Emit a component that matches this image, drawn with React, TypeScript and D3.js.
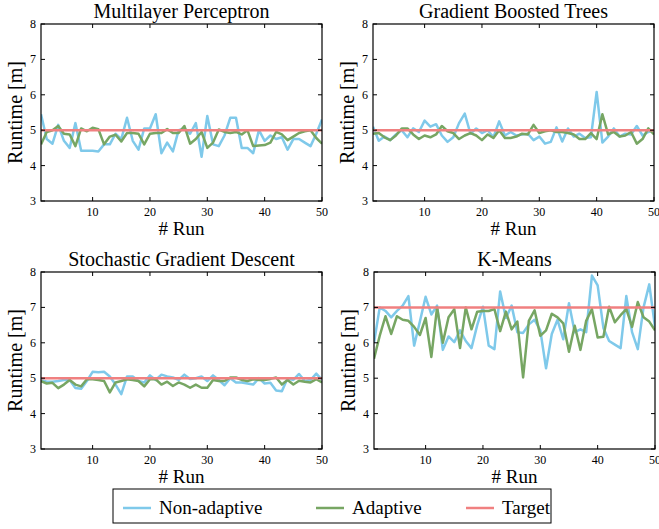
import React, { useEffect, useRef } from 'react';
import * as d3 from 'd3';

// ==== data

const runs = d3.range(1, 51);
const yTicks = [3, 4, 5, 6, 7, 8];
const xTicks = [10, 20, 30, 40, 50];
const seriesNames = ['Non-adaptive', 'Adaptive', 'Target'];
const titles = ['Multilayer Perceptron', 'Gradient Boosted Trees', 'Stochastic Gradient Descent', 'K-Means'];
const targets = [5, 5, 5, 7];

const mlpNonAdaptive = [
    5.45, 4.75, 4.62, 5.15, 4.7, 4.5, 5.2, 4.42, 4.42, 4.42,
    4.4, 4.6, 4.6, 4.9, 4.75, 5.35, 4.7, 4.45, 5.05, 5.05,
    5.45, 4.35, 4.65, 4.4, 5.0, 5.05, 4.9, 5.2, 4.25, 5.4,
    4.6, 4.55, 4.85, 5.35, 5.35, 4.5, 4.5, 4.35, 5.0, 4.7,
    4.85, 4.75, 4.8, 4.45, 4.75, 4.75, 4.65, 4.55, 4.9, 5.3
];
const mlpAdaptive = [
    4.6, 4.95, 5.0, 5.12, 4.9, 4.88, 4.55, 5.05, 4.97, 5.07,
    5.03, 4.6, 4.82, 4.87, 4.68, 4.92, 4.92, 4.9, 4.6, 4.9,
    4.92, 4.92, 5.03, 4.92, 4.92, 5.12, 4.62, 4.75, 4.95, 4.5,
    4.65, 5.02, 4.95, 4.92, 4.95, 4.88, 5.0, 4.55, 4.57, 4.58,
    4.65, 4.95, 4.88, 4.72, 4.82, 4.92, 4.97, 5.0, 4.78, 4.62
];
const gbtNonAdaptive = [
    5.1, 4.7, 4.82, 4.72, 4.88, 5.0, 4.8, 5.05, 4.95, 5.27,
    5.1, 5.17, 4.85, 4.67, 4.8, 5.2, 5.47, 4.9, 5.05, 4.92,
    5.0, 4.8, 5.25, 4.85, 4.95, 4.85, 4.88, 4.9, 4.72, 4.82,
    4.62, 4.67, 5.08, 4.68, 5.05, 4.82, 4.9, 4.78, 4.8, 6.08,
    4.65, 4.82, 5.05, 4.82, 4.9, 4.88, 5.12, 4.85, 4.95, 5.0
];
const gbtAdaptive = [
    4.9, 4.92, 4.8, 4.72, 4.85, 5.05, 5.05, 4.88, 4.75, 4.85,
    4.8, 4.88, 5.12, 4.97, 4.92, 4.75, 4.85, 4.92, 4.85, 4.72,
    4.88, 4.78, 5.0, 4.78, 4.78, 4.82, 4.9, 4.88, 5.15, 4.92,
    4.97, 5.0, 4.95, 4.95, 4.92, 4.88, 4.75, 4.75, 4.92, 4.75,
    5.45, 4.88, 4.95, 4.82, 4.85, 4.95, 4.62, 4.75, 5.05, 4.88
];
const sgdNonAdaptive = [
    4.95, 4.9, 4.9, 4.92, 4.95, 4.95, 4.72, 4.7, 4.92, 5.18,
    5.17, 5.18, 5.05, 4.82, 4.55, 5.05, 5.05, 4.92, 4.88, 5.08,
    4.95, 5.1, 5.05, 5.02, 4.95, 5.1, 4.98, 5.0, 5.05, 4.92,
    5.08, 4.95, 4.8, 5.0, 4.88, 4.88, 4.85, 4.82, 5.0, 4.85,
    4.87, 4.65, 4.63, 5.0, 4.95, 5.12, 4.92, 4.95, 5.13, 4.95
];
const sgdAdaptive = [
    4.92, 4.85, 4.87, 4.72, 4.82, 4.95, 4.82, 4.77, 4.97, 4.97,
    4.95, 4.92, 4.6, 4.88, 4.92, 4.97, 4.95, 4.92, 4.77, 4.97,
    4.97, 4.82, 4.9, 4.78, 4.88, 4.82, 4.73, 4.82, 4.73, 4.73,
    4.95, 4.92, 4.92, 5.02, 5.02, 4.95, 4.92, 4.97, 4.95, 4.95,
    4.98, 5.02, 4.82, 4.95, 4.82, 4.93, 4.9, 4.88, 4.97, 4.88
];
const kmNonAdaptive = [
    6.0, 7.0, 6.9, 6.72, 6.9, 7.05, 7.32, 5.92, 6.6, 7.3,
    6.8, 7.05, 5.8, 6.18, 6.02, 6.35, 6.05, 5.85, 6.5, 7.02,
    5.92, 5.82, 7.45, 6.7, 7.05, 6.3, 6.28, 6.52, 6.65, 6.35,
    5.28, 6.25, 6.65, 6.1, 7.12, 6.3, 6.38, 6.3, 7.9, 7.62,
    6.42, 6.05, 5.95, 5.85, 7.32, 6.3, 5.82, 7.0, 7.65, 6.45
];
const kmAdaptive = [
    5.55, 6.2, 6.75, 6.25, 6.75, 6.65, 6.62, 6.45, 6.22, 6.7,
    5.6, 7.0, 6.0, 6.72, 6.95, 5.85, 7.0, 6.38, 6.88, 6.9,
    6.9, 6.95, 6.33, 6.88, 6.38, 6.6, 5.02, 6.62, 6.92, 6.2,
    6.35, 6.82, 6.72, 6.55, 5.75, 6.48, 5.8, 6.62, 6.95, 6.15,
    6.17, 7.02, 6.58, 6.78, 6.95, 6.45, 7.15, 6.72, 6.6, 6.35
];

const nonAdaptive = [mlpNonAdaptive, gbtNonAdaptive, sgdNonAdaptive, kmNonAdaptive];
const adaptive = [mlpAdaptive, gbtAdaptive, sgdAdaptive, kmAdaptive];

// ==== layout

const WIDTH = 659;
const HEIGHT = 529;
const FONT = '"Liberation Serif", "DejaVu Serif", serif';
const COLORS = ['#7fc9ea', '#77a663', '#f08080'];
const panelBoxes = [
    { left: 41, top: 24 },
    { left: 373, top: 24 },
    { left: 41, top: 272 },
    { left: 374, top: 272 }
];
const PW = 281;
const PH = 177;

function drawPanel(svg, i) {
    const box = panelBoxes[i];
    const g = svg.append('g').attr('transform', `translate(${box.left}, ${box.top})`);

    const x = d3.scaleLinear().domain([1, 50]).range([0, PW]);
    const y = d3.scaleLinear().domain([3, 8]).range([PH, 0]);

    const clipId = `clip-${i}`;
    g.append('clipPath').attr('id', clipId)
        .append('rect').attr('width', PW).attr('height', PH);

    const line = d3.line().x((d, k) => x(runs[k])).y((d) => y(d));
    const plot = g.append('g').attr('clip-path', `url(#${clipId})`);

    plot.append('path')
        .datum(nonAdaptive[i])
        .attr('d', line)
        .attr('fill', 'none')
        .attr('stroke', COLORS[0])
        .attr('stroke-width', 2.5)
        .attr('stroke-linejoin', 'round');

    plot.append('path')
        .datum(adaptive[i])
        .attr('d', line)
        .attr('fill', 'none')
        .attr('stroke', COLORS[1])
        .attr('stroke-width', 2.5)
        .attr('stroke-linejoin', 'round');

    plot.append('path')
        .datum(runs.map(() => targets[i]))
        .attr('d', line)
        .attr('fill', 'none')
        .attr('stroke', COLORS[2])
        .attr('stroke-width', 2.5);

    // inward ticks on all four sides
    const ticks = g.append('g').attr('stroke', '#000').attr('stroke-width', 1);
    yTicks.forEach((t) => {
        ticks.append('line').attr('x1', 0).attr('x2', 4).attr('y1', y(t)).attr('y2', y(t));
        ticks.append('line').attr('x1', PW).attr('x2', PW - 4).attr('y1', y(t)).attr('y2', y(t));
    });
    xTicks.forEach((t) => {
        ticks.append('line').attr('x1', x(t)).attr('x2', x(t)).attr('y1', PH).attr('y2', PH - 4);
        ticks.append('line').attr('x1', x(t)).attr('x2', x(t)).attr('y1', 0).attr('y2', 4);
    });

    g.append('rect')
        .attr('width', PW)
        .attr('height', PH)
        .attr('fill', 'none')
        .attr('stroke', '#000')
        .attr('stroke-width', 1.2);

    g.selectAll('.ylab').data(yTicks).enter().append('text')
        .attr('x', -5)
        .attr('y', (d) => y(d) + 4)
        .attr('text-anchor', 'end')
        .style('font-family', FONT)
        .style('font-size', '12px')
        .text((d) => d);

    g.selectAll('.xlab').data(xTicks).enter().append('text')
        .attr('x', (d) => x(d))
        .attr('y', PH + 15)
        .attr('text-anchor', 'middle')
        .style('font-family', FONT)
        .style('font-size', '12px')
        .text((d) => d);

    g.append('text')
        .attr('x', PW / 2)
        .attr('y', -6)
        .attr('text-anchor', 'middle')
        .style('font-family', FONT)
        .style('font-size', '20px')
        .text(titles[i]);

    g.append('text')
        .attr('x', PW / 2)
        .attr('y', PH + 34)
        .attr('text-anchor', 'middle')
        .style('font-family', FONT)
        .style('font-size', '19px')
        .text('# Run');

    g.append('text')
        .attr('transform', `translate(-19, ${PH / 2}) rotate(-90)`)
        .attr('text-anchor', 'middle')
        .style('font-family', FONT)
        .style('font-size', '20px')
        .text('Runtime [m]');
}

function drawLegend(svg) {
    const lg = svg.append('g').attr('transform', 'translate(113, 489)');
    lg.append('rect')
        .attr('width', 438)
        .attr('height', 34)
        .attr('fill', '#fff')
        .attr('stroke', '#000')
        .attr('stroke-width', 1);

    const starts = [10, 203, 353];
    seriesNames.forEach((name, k) => {
        lg.append('line')
            .attr('x1', starts[k])
            .attr('x2', starts[k] + 28)
            .attr('y1', 19)
            .attr('y2', 19)
            .attr('stroke', COLORS[k])
            .attr('stroke-width', 2.5);
        lg.append('text')
            .attr('x', starts[k] + 36)
            .attr('y', 25)
            .style('font-family', FONT)
            .style('font-size', '19px')
            .text(name);
    });
}

export default function App() {
    const ref = useRef(null);

    useEffect(() => {
        const svg = d3.select(ref.current);
        svg.selectAll('*').remove();
        [0, 1, 2, 3].forEach((i) => drawPanel(svg, i));
        drawLegend(svg);
    }, []);

    return (
        <svg
            ref={ref}
            width={WIDTH}
            height={HEIGHT}
            style={{ position: 'absolute', left: 0, top: 0, background: '#fff' }}>
        </svg>
    );
}
